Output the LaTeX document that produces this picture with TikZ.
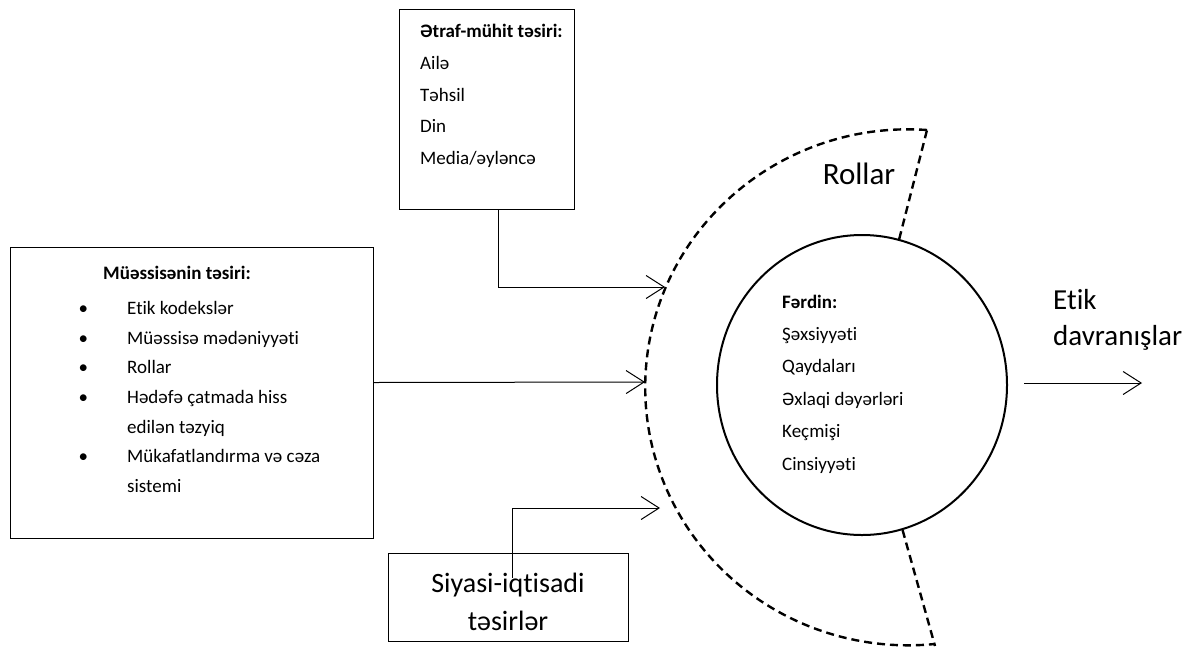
\documentclass[tikz,border=0pt]{standalone}
\usepackage{fontspec}
\setmainfont{Carlito}[Ligatures={NoCommon}]
\usetikzlibrary{arrows.meta,shapes.geometric}
\begin{document}
\begin{tikzpicture}[x=1pt,y=-1pt,
 box/.style={draw, line width=1pt, inner sep=0},
 txt/.style={inner sep=0, align=left, font=\fontsize{19}{31.7}\selectfont},
 conn/.style={line width=1pt, -{Straight Barb[length=18pt,width=23pt]}},
 dsh/.style={line width=2.4pt, dash pattern=on 8pt off 5pt},
 big/.style={inner sep=0, align=left, font=\fontsize{29}{36}\selectfont}]
\useasboundingbox (0,0) rectangle (1190,646);

% boxes
\node[box, minimum width=175, minimum height=200, anchor=north west] (env) at (399,9) {};
\node[box, minimum width=363, minimum height=291, anchor=north west] (org) at (10,247) {};
\node[box, minimum width=240, minimum height=88, anchor=north west] (pol) at (388,553) {};
\node[inner sep=0, align=center, font=\fontsize{28}{37.5}\selectfont] (poltxt) at (508,602) {Siyasi-iqtisadi\\təsirlər};

% individual circle
\node[ellipse, draw, line width=2pt, minimum width=290, minimum height=300, inner sep=0] (ind) at (862,385) {};

% texts
\node[txt, anchor=west] (envtxt) at (420,96) {\textbf{Ətraf-mühit təsiri:}\\Ailə\\Təhsil\\Din\\Media/əyləncə};
\node[inner sep=0, font=\bfseries\fontsize{19}{24}\selectfont] (orghead) at (177,273) {Müəssisənin təsiri:};
\node[txt, anchor=west, font=\fontsize{19}{29.6}\selectfont] (orglist) at (78.5,397)
 {\makebox[48.5pt][l]{•}Etik kodekslər\\
  \makebox[48.5pt][l]{•}Müəssisə mədəniyyəti\\
  \makebox[48.5pt][l]{•}Rollar\\
  \makebox[48.5pt][l]{•}Hədəfə çatmada hiss\\
  \hspace*{48.5pt}edilən təzyiq\\
  \makebox[48.5pt][l]{•}Mükafatlandırma və cəza\\
  \hspace*{48.5pt}sistemi};
\node[txt, anchor=west, font=\fontsize{19}{32.4}\selectfont] (indtxt) at (782,384)
 {\textbf{Fərdin:}\\Şəxsiyyəti\\Qaydaları\\Əxlaqi dəyərləri\\Keçmişi\\Cinsiyyəti};
\node[big, font=\fontsize{31}{36}\selectfont] (roles) at (859,174) {Rollar};
\node[big, anchor=west] (out) at (1053,320) {Etik\\davranışlar};

% roles ring (dashed)
\coordinate (rt) at (927,130);
\coordinate (rb) at (935,646);
\draw[dsh] (rt) arc[start angle=-85.9, end angle=-275.9, x radius=263, y radius=258];
\draw[dsh] (ind) -- (rt);
\draw[dsh] (ind) -- (rb);

% connectors
\coordinate (envtip) at (665,287);
\coordinate (orgtip) at (645,382);
\coordinate (poltip) at (660,508);
\coordinate (outtip) at (1142,383);
\draw[conn] ([xshift=11.5pt]env.south) |- (envtip);
\draw[conn] ([yshift=10.5pt]org.east) -- (orgtip);
\draw[conn] ([xshift=4pt,yshift=20pt]pol.center) |- (poltip);
\draw[conn] ([xshift=16pt,yshift=2pt]ind.east) -- (outtip);
\end{tikzpicture}
\end{document}
